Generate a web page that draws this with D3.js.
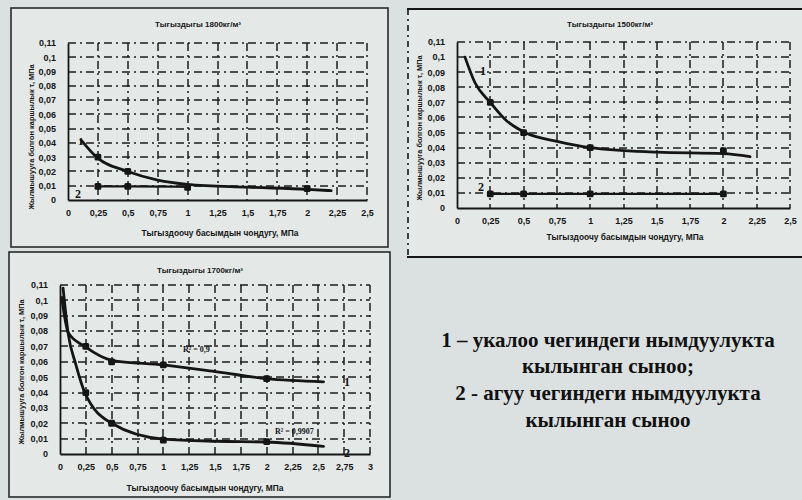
<!DOCTYPE html>
<html><head><meta charset="utf-8">
<script src="https://cdn.jsdelivr.net/npm/d3@7"></script>
<style>
html,body{margin:0;padding:0;background:#dbe1e0;}
svg{display:block;}
</style></head>
<body>
<script>
// ---------- DATA ----------
const yTicks = [0,0.01,0.02,0.03,0.04,0.05,0.06,0.07,0.08,0.09,0.10,0.11];
const xTicksA = [0,0.25,0.5,0.75,1,1.25,1.5,1.75,2,2.25,2.5];
const xTicksC = [0,0.25,0.5,0.75,1,1.25,1.5,1.75,2,2.25,2.5,2.75,3];

const titles = ["Тыгыздыгы 1800кг/м³","Тыгыздыгы 1500кг/м³","Тыгыздыгы 1700кг/м³"];
const yLabel = "Жылмышууга болгон каршылык τ, МПа";
const xLabel = "Тыгыздоочу басымдын чоңдугу, МПа";
const legendLines = ["1 – укалоо чегиндеги нымдуулукта","кылынган сыноо;","2 - агуу чегиндеги нымдуулукта","кылынган сыноо"];

// Panel 1 (1800)
const p1c1X = [0.11,0.24,0.5,0.75,1.0,1.5,2.0,2.2];
const p1c1Y = [0.042,0.030,0.020,0.014,0.011,0.009,0.0075,0.0065];
const p1m1X = [0.25,0.5,2.0];
const p1m1Y = [0.030,0.020,0.008];
const p1c2X = [0.25,0.5,1.0];
const p1c2Y = [0.0095,0.0095,0.0092];
const p1m2X = [0.25,0.5,1.0];
const p1m2Y = [0.0095,0.0095,0.0088];

// Panel 2 (1500)
const p2c1X = [0.06,0.135,0.25,0.37,0.51,0.76,1.0,1.5,2.0,2.2];
const p2c1Y = [0.100,0.083,0.070,0.058,0.050,0.044,0.040,0.037,0.036,0.034];
const p2m1X = [0.25,0.5,1.0,2.0];
const p2m1Y = [0.070,0.050,0.040,0.038];
const p2c2X = [0.25,0.5,1.0,2.0];
const p2c2Y = [0.0093,0.0093,0.0093,0.0093];
const p2m2X = [0.25,0.5,1.0,2.0];
const p2m2Y = [0.0093,0.0093,0.0093,0.0093];

// Panel 3 (1700)
const p3c1X = [0.016,0.08,0.24,0.5,1.0,1.52,2.0,2.55];
const p3c1Y = [0.102,0.079,0.070,0.061,0.058,0.0535,0.049,0.047];
const p3m1X = [0.25,0.5,1.0,2.0];
const p3m1Y = [0.070,0.060,0.058,0.049];
const p3c2X = [0.03,0.08,0.15,0.24,0.5,1.0,1.52,2.0,2.55];
const p3c2Y = [0.108,0.078,0.059,0.040,0.020,0.0097,0.0083,0.0078,0.005];
const p3m2X = [0.25,0.5,1.0,2.0];
const p3m2Y = [0.040,0.020,0.009,0.008];
const r2Labels = ["R² = 0,9","R² = 0,9907"];

// ---------- DRAW ----------
const W = 802, H = 500;
const svg = d3.select("body").append("svg").attr("width",W).attr("height",H);
svg.append("rect").attr("width",W).attr("height",H).attr("fill","#dbe1e0");

const fmt = v => (v===0 ? "0" : d3.format("~g")(+v.toFixed(3))).replace(".", ",");
const zip = (xs,ys) => xs.map((x,i)=>[x,ys[i]]);
const ink = "#151515";

function panel(cfg){
  const g = svg.append("g");
  if (cfg.frame) {
    const f = cfg.frame;
    g.append("rect").attr("x",f[0]).attr("y",f[1]).attr("width",f[2]-f[0]).attr("height",f[3]-f[1])
      .attr("fill","#e4e9e8").attr("stroke","#2a2a2a").attr("stroke-width",1.6);
  }
  const x = d3.scaleLinear().domain([0,cfg.xMax]).range([cfg.l,cfg.r]);
  const y = d3.scaleLinear().domain([0,0.11]).range([cfg.b,cfg.t]);

  const grid = g.append("g");
  grid.selectAll("line.h").data(yTicks.slice(1)).join("line").attr("class","h")
    .attr("x1",cfg.l).attr("x2",cfg.r).attr("y1",d=>Math.round(y(d))).attr("y2",d=>Math.round(y(d)))
    .attr("stroke","#1c1c1c").attr("stroke-width",1.5).attr("stroke-dasharray","8 4 2 4");
  grid.selectAll("line.v").data(cfg.xTicks.slice(1)).join("line").attr("class","v")
    .attr("y1",cfg.t).attr("y2",cfg.b).attr("x1",d=>Math.round(x(d))).attr("x2",d=>Math.round(x(d)))
    .attr("stroke","#1c1c1c").attr("stroke-width",1.5).attr("stroke-dasharray","8 4 2 4");

  const ya = d3.axisLeft(y).tickValues(yTicks).tickSize(0).tickPadding(cfg.yPad||12).tickFormat(fmt);
  const xa = d3.axisBottom(x).tickValues(cfg.xTicks).tickSize(0).tickPadding(cfg.xPad||10).tickFormat(fmt);
  const gy = g.append("g").attr("transform",`translate(${cfg.l},0)`).call(ya);
  const gx = g.append("g").attr("transform",`translate(0,${cfg.b})`).call(xa);
  [gy,gx].forEach(a=>{
    a.select(".domain").attr("stroke",ink).attr("stroke-width",1.8);
    a.selectAll("text").attr("font-family","Liberation Sans, Arial, sans-serif")
      .attr("font-weight","bold").attr("font-size",9).attr("fill",ink);
  });

  g.append("text").attr("x",cfg.title[0]).attr("y",cfg.title[1]).attr("text-anchor","middle")
    .attr("font-family","Liberation Sans, Arial, sans-serif").attr("font-weight","bold").attr("font-size",8).attr("fill",ink)
    .text(cfg.titleText);
  g.append("text").attr("transform",`translate(${cfg.yl[0]},${cfg.yl[1]}) rotate(-90)`).attr("text-anchor","middle")
    .attr("font-family","Liberation Sans, Arial, sans-serif").attr("font-weight","bold").attr("font-size",7.4).attr("fill",ink)
    .text(yLabel);
  g.append("text").attr("x",cfg.xl[0]).attr("y",cfg.xl[1]).attr("text-anchor","middle")
    .attr("font-family","Liberation Sans, Arial, sans-serif").attr("font-weight","bold").attr("font-size",8.4).attr("fill",ink)
    .text(xLabel);

  const line = d3.line().x(d=>x(d[0])).y(d=>y(d[1])).curve(d3.curveMonotoneX);
  cfg.curves.forEach(c=>{
    g.append("path").datum(c.pts).attr("d",line).attr("fill","none").attr("stroke",ink)
      .attr("stroke-width",c.w||2.8).attr("stroke-linecap","round");
  });
  cfg.markers.forEach(m=>{
    g.selectAll(null).data(m).join("rect")
      .attr("x",d=>x(d[0])-3.4).attr("y",d=>y(d[1])-3.4).attr("width",6.8).attr("height",6.8)
      .attr("rx",1.5).attr("fill",ink);
  });
  (cfg.labels||[]).forEach(l=>{
    g.append("text").attr("x",l[0]).attr("y",l[1]).attr("font-family","Liberation Serif, Times New Roman, serif")
      .attr("font-weight","bold").attr("font-size",l[3]||12).attr("fill",ink).text(l[2]);
  });
}

// panel 2 frame (top/bottom solid, left dash-dot)
svg.append("rect").attr("x",407).attr("y",8).attr("width",400).attr("height",250).attr("fill","#e4e9e8");
svg.append("line").attr("x1",407).attr("x2",802).attr("y1",9).attr("y2",9).attr("stroke",ink).attr("stroke-width",2.2);
svg.append("line").attr("x1",407).attr("x2",802).attr("y1",257).attr("y2",257).attr("stroke",ink).attr("stroke-width",2.2);
svg.append("line").attr("x1",408).attr("x2",408).attr("y1",9).attr("y2",257).attr("stroke",ink).attr("stroke-width",1.6).attr("stroke-dasharray","6 4 2 4");

panel({frame:[11,8,388,247], l:68, r:367, t:43, b:200, xMax:2.5, xTicks:xTicksA,
  title:[198,27], titleText:titles[0], yl:[34,137], xl:[220,236],
  curves:[{pts:zip(p1c1X,p1c1Y)},{pts:zip(p1c2X,p1c2Y),w:2.3}],
  markers:[zip(p1m1X,p1m1Y),zip(p1m2X,p1m2Y)],
  labels:[[78,145,"1",11],[75,198,"2",12]]});

panel({l:457, r:790, t:42, b:208, xMax:2.5, xTicks:xTicksA,
  title:[610,27], titleText:titles[1], yl:[422,128], xl:[625,240],
  curves:[{pts:zip(p2c1X,p2c1Y)},{pts:zip(p2c2X,p2c2Y),w:2.3}],
  markers:[zip(p2m1X,p2m1Y),zip(p2m2X,p2m2Y)],
  labels:[[480,75,"1",12],[478,191,"2",12]]});

panel({frame:[9,252,390,497], l:60, r:370, t:285, b:454, xMax:3, xTicks:xTicksC,
  title:[200,273], titleText:titles[2], yl:[24,372], xl:[205,491],
  curves:[{pts:zip(p3c1X,p3c1Y)},{pts:zip(p3c2X,p3c2Y)}],
  markers:[zip(p3m1X,p3m1Y),zip(p3m2X,p3m2Y)],
  labels:[[344,386,"1",12],[344,457,"2",12],[183,352,r2Labels[0],8],[275,434,r2Labels[1],8]]});

const lg = svg.append("g").attr("font-family","Liberation Serif, Times New Roman, serif")
  .attr("font-weight","bold").attr("font-size",21).attr("fill","#111").attr("text-anchor","middle");
const lgY = [347,373,400,427];
legendLines.forEach((t,i)=>lg.append("text").attr("x",608).attr("y",lgY[i]).text(t));
</script>
</body></html>
